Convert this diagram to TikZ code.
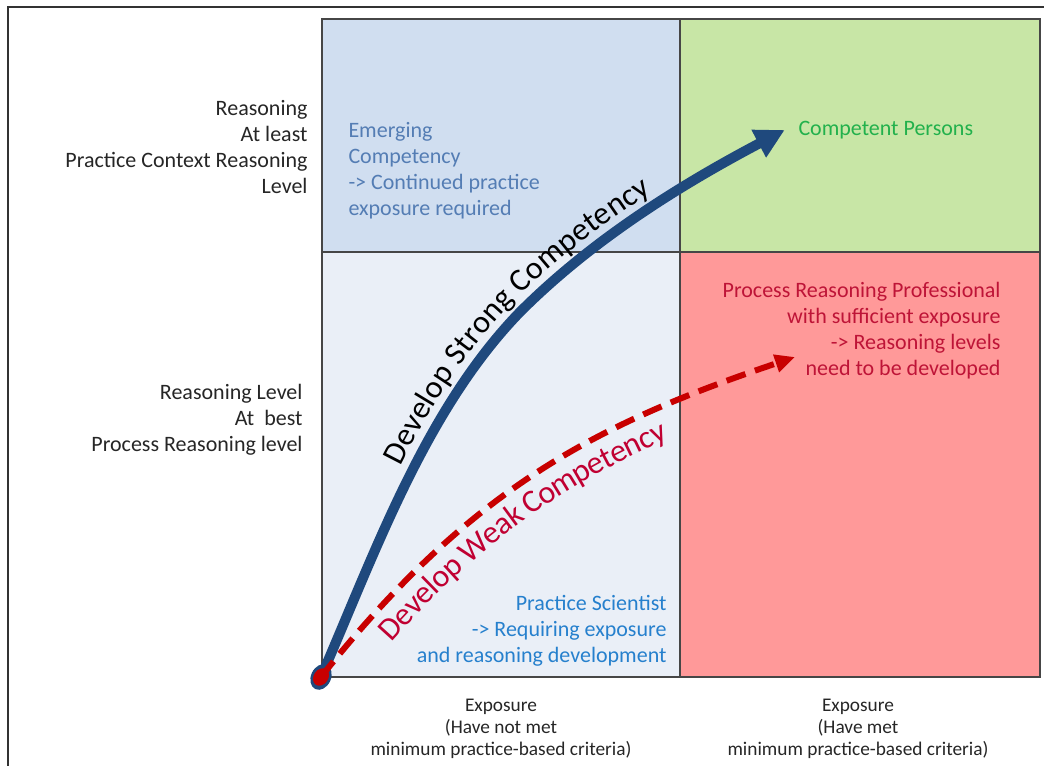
\documentclass[tikz,border=0pt]{standalone}
\usepackage{fontspec}
\setmainfont{Carlito}
\usetikzlibrary{arrows.meta,decorations.text}

\definecolor{framegray}{RGB}{50,50,50}
\definecolor{gridgray}{RGB}{70,70,70}
\definecolor{labelgray}{RGB}{38,38,38}
\definecolor{cellblue}{RGB}{208,222,240}
\definecolor{cellpale}{RGB}{234,239,247}
\definecolor{cellgreen}{RGB}{200,230,166}
\definecolor{cellred}{RGB}{255,153,153}
\definecolor{strongblue}{RGB}{31,73,125}
\definecolor{weakred}{RGB}{200,0,0}
\definecolor{weaktext}{RGB}{192,0,50}
\definecolor{emergtext}{RGB}{84,125,180}
\definecolor{competgreen}{RGB}{34,177,76}
\definecolor{proftext}{RGB}{190,20,55}
\definecolor{scitext}{RGB}{38,128,205}

\newcommand{\curvefont}{\fontsize{24}{28}\selectfont}

\tikzset{every picture/.style={line width=0.75pt}}
\tikzset{
  cell/.style={draw=gridgray, line width=0.9pt},
  axislabel/.style={inner sep=0pt, text=labelgray, align=right, font=\fontsize{16.5}{19.5}\selectfont},
  exposurelabel/.style={inner sep=0pt, text=labelgray, align=center, font=\fontsize{14.5}{16.5}\selectfont},
  quadtext/.style={inner sep=0pt, font=\fontsize{16.5}{19.5}\selectfont},
  strongline/.style={draw=strongblue, line width=7.5pt, -{Triangle[length=22pt,width=22pt]}},
  weakline/.style={draw=weakred, line width=4.5pt, dash pattern=on 15pt off 7.5pt, -{Triangle[length=15pt,width=13pt]}},
}

\begin{document}
\begin{tikzpicture}[x=0.75pt,y=0.75pt,yscale=-1,xscale=1]
\useasboundingbox (0,0) rectangle (1044,766);

% outer frame
\draw[draw=framegray, line width=1.2pt] (8,766) -- (8,7) -- (1044,7);

% quadrants
\fill[cellblue] (322,19) rectangle (680,252);
\fill[cellgreen] (680,19) rectangle (1040,252);
\fill[cellpale] (322,252) rectangle (680,677);
\fill[cellred] (680,252) rectangle (1040,677);
\draw[cell] (322,19) rectangle (1040,677) (680,19) -- (680,677) (322,252) -- (1040,252);

% axis labels
\node[axislabel, anchor=east] (reasonhigh) at (308,147) {Reasoning\\At least\\Practice Context Reasoning\\Level};
\node[axislabel, anchor=east] (reasonlow) at (303,420) {Reasoning Level\\At\ \ best\\Process Reasoning level};
\node[exposurelabel] (exposurenot) at (501,729) {Exposure\\(Have not met\\minimum practice-based criteria)};
\node[exposurelabel] (exposuremet) at (858,729) {Exposure\\(Have met\\minimum practice-based criteria)};

% quadrant texts
\node[quadtext, text=emergtext, align=left, anchor=west] (emerging) at (348,171) {Emerging\\Competency\\-> Continued practice\\exposure required};
\node[quadtext, text=competgreen, anchor=west] (competent) at (798,130) {Competent Persons};
\node[quadtext, text=proftext, align=right, anchor=east] (profession) at (1001,331) {Process Reasoning Professional\\with sufficient exposure\\-> Reasoning levels\\need to be developed};
\node[quadtext, text=scitext, align=right, anchor=east] (scientist) at (667,631) {Practice Scientist\\-> Requiring exposure\\and reasoning development};

% curves
\coordinate (origin) at (321,677);
\coordinate (weaktip) at (795,357);
\draw[strongline] (origin) .. controls (375,553) and (425,410) .. (520,312) .. controls (596,236) and (688,181) .. ([xshift=-10pt]competent.west);
\fill[strongblue, rotate around={-65:(origin)}] (origin) ellipse [x radius=10pt, y radius=7.5pt];
\draw[weakline] (origin) .. controls (475,482) and (606,421) .. (weaktip);
\fill[weakred, rotate around={-55:(origin)}] (origin) ellipse [x radius=7pt, y radius=5.5pt];

\path[decorate, decoration={text along path, raise=9pt, text align={left indent=168pt},
  text={|\curvefont\color{black}|Develop Strong Competency}}]
  (origin) .. controls (375,553) and (425,410) .. (520,312) .. controls (596,236) and (688,181) .. ([xshift=-10pt]competent.west);
\path[decorate, decoration={text along path, raise=-24pt, text align={left indent=55pt},
  text={|\curvefont\color{weaktext}|Develop Weak Competency}}]
  (origin) .. controls (475,482) and (606,421) .. (weaktip);

\end{tikzpicture}
\end{document}
